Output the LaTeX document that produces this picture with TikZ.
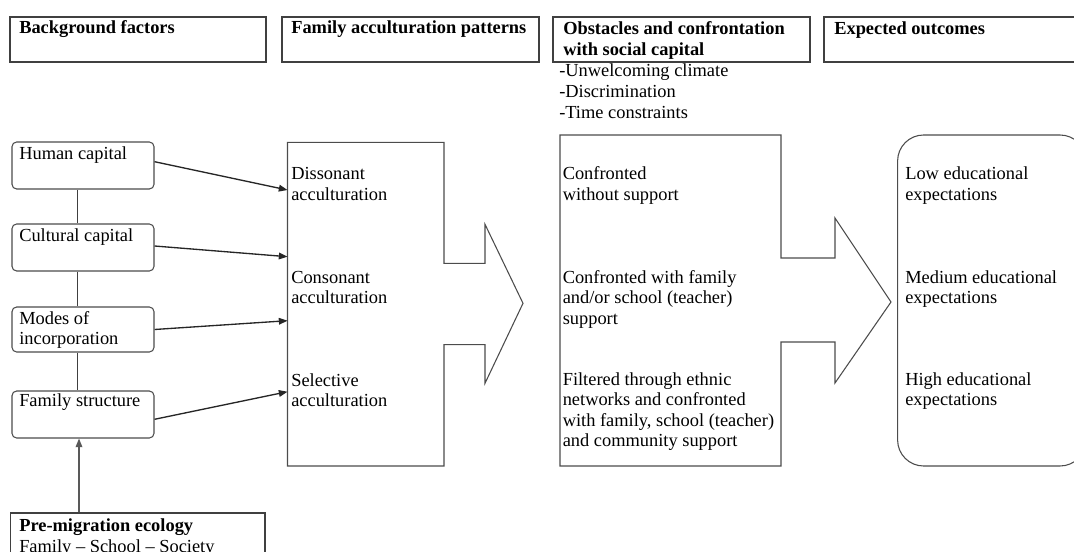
\documentclass[tikz,border=0pt]{standalone}
\usepackage{fontspec}
\setmainfont{Liberation Serif}
\usetikzlibrary{arrows.meta,fit,calc}
\newcommand\txtlines[1]{\vtop{\baselineskip=15.4pt\lineskiplimit=-10pt\halign{##\hfil\cr#1\crcr}}}
\begin{document}
\begin{tikzpicture}[x=0.75pt,y=-0.75pt,
  hdr/.style={draw=black!75, line width=1.1pt, inner sep=0pt},
  fbox/.style={draw=black!70, line width=0.8pt, rounded corners=3.5pt, inner sep=0pt},
  arr/.style={draw=black!85, line width=1pt, -{Triangle[length=6.5pt,width=5pt]}},
  lnk/.style={draw=black!75, line width=0.8pt},
  bigarrow/.style={draw=black!70, line width=0.8pt, line join=miter},
  outbox/.style={draw=black!70, line width=0.8pt, rounded corners=19.5pt, inner sep=0pt},
  txt/.style={anchor=base west, inner sep=0pt, font=\fontsize{13.8pt}{15.4pt}\selectfont},
  bold/.style={txt, font=\fontsize{13.8pt}{15.4pt}\selectfont\bfseries}]
\useasboundingbox (0,0) rectangle (1074,552);

% header boxes
\node[hdr, fit={(10,17) (266,62)}] (h1) {};
\node[hdr, fit={(282,17) (539,62)}] (h2) {};
\node[hdr, fit={(553,17) (810,62)}] (h3) {};
\node[hdr, fit={(824,17) (1082,62)}] (h4) {};
\node[bold] (t1) at (19,34) {Background factors};
\node[bold] (t2) at (291,34) {Family acculturation patterns};
\node[bold] (t3) at (563,35) {\txtlines{Obstacles and confrontation\cr with social capital}};
\node[bold] (t4) at (834,35) {Expected outcomes};
\node[txt] (obs) at (559,77) {\txtlines{-Unwelcoming climate\cr -Discrimination\cr -Time constraints}};

% background factor boxes
\node[fbox, fit={(12,142) (154,189)}] (hc) {};
\node[fbox, fit={(12,224) (154,271)}] (cc) {};
\node[fbox, fit={(12,307) (154,352)}] (mi) {};
\node[fbox, fit={(12,391) (154,438)}] (fs) {};
\node[hdr, line width=0.9pt, fit={(10.5,513) (265,570)}] (pm) {};
\node[txt] (thc) at (19,160) {Human capital};
\node[txt] (tcc) at (19,241.5) {Cultural capital};
\node[txt] (tmi) at (19,324) {\txtlines{Modes of\cr incorporation}};
\node[txt] (tfs) at (19,406.5) {Family structure};
\node[txt] (tpm) at (19,531.5) {\txtlines{\bfseries Pre-migration ecology\cr Family -- School -- Society}};

% links
\coordinate (vx) at (77.5,0);
\coordinate (ux) at (79,0);
\draw[lnk] (hc.south -| vx) -- (cc.north -| vx);
\draw[lnk] (cc.south -| vx) -- (mi.north -| vx);
\draw[lnk] (mi.south -| vx) -- (fs.north -| vx);
\draw[arr, draw=black!65] (pm.north -| ux) -- (fs.south -| ux);

% acculturation big arrow
\draw[bigarrow] (287.5,142.3) -- (444,142.3) -- (444,263.3) -- (485,263.3) -- (485,224.3)
  -- (523,303.3) -- (485,383.3) -- (485,344.7) -- (444,344.7) -- (444,466) -- (287.5,466) -- cycle;
\coordinate (a1) at (287.5,190);
\coordinate (a2) at (287.5,256.7);
\coordinate (a3) at (287.5,320.7);
\coordinate (a4) at (287.5,391.7);
\draw[arr] ($(hc.east)+(0,-3.8)$) -- (a1);
\draw[arr] ($(cc.east)+(0,-1.5)$) -- (a2);
\draw[arr] (mi.east) -- (a3);
\draw[arr] ($(fs.east)+(0,4.8)$) -- (a4);
\node[txt] (d1) at (291,180) {\txtlines{Dissonant\cr acculturation}};
\node[txt] (d2) at (291,283) {\txtlines{Consonant\cr acculturation}};
\node[txt] (d3) at (291,386) {\txtlines{Selective\cr acculturation}};

% obstacles big arrow
\draw[bigarrow] (560,135) -- (781,135) -- (781,258) -- (835,258) -- (835,218) -- (891,302)
  -- (835,383) -- (835,342) -- (781,342) -- (781,466) -- (560,466) -- cycle;
\node[txt] (o1) at (562.5,180) {\txtlines{Confronted\cr without support}};
\node[txt] (o2) at (562.5,283) {\txtlines{Confronted with family\cr and/or school (teacher)\cr support}};
\node[txt] (o3) at (562.5,385) {\txtlines{Filtered through ethnic\cr networks and confronted\cr with family, school (teacher)\cr and community support}};

% outcomes
\node[outbox, fit={(897.6,135) (1086,466)}] (out) {};
\node[txt] (e1) at (905,180) {\txtlines{Low educational\cr expectations}};
\node[txt] (e2) at (905,283) {\txtlines{Medium educational\cr expectations}};
\node[txt] (e3) at (905,385) {\txtlines{High educational\cr expectations}};
\end{tikzpicture}
\end{document}
